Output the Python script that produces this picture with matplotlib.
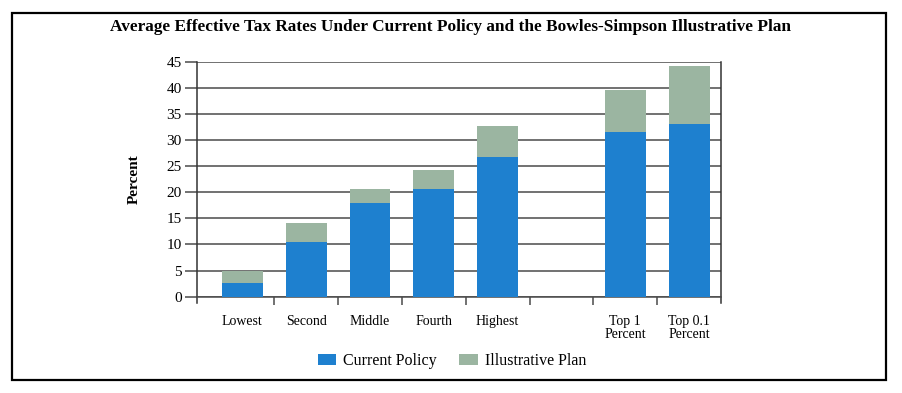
import matplotlib
matplotlib.use("Agg")
import matplotlib.pyplot as plt
import numpy as np
from matplotlib.patches import Rectangle

categories = ["Lowest", "Second", "Middle", "Fourth", "Highest", "", "Top 1\nPercent", "Top 0.1\nPercent"]
current_policy = [2.6, 10.5, 18.0, 20.6, 26.7, np.nan, 31.5, 33.1]
illustrative_total = [5.0, 14.2, 20.6, 24.3, 32.7, np.nan, 39.5, 44.2]
yticks = [0, 5, 10, 15, 20, 25, 30, 35, 40, 45]

title = "Average Effective Tax Rates Under Current Policy and the Bowles-Simpson Illustrative Plan"

plt.rcParams['font.family'] = ['Liberation Serif', 'DejaVu Serif']

cur = np.array(current_policy)
extra = np.array(illustrative_total) - cur

fig = plt.figure(figsize=(9.02, 3.93), dpi=100)
W, H = 902, 393
# figure border
fig.patches.append(Rectangle((12 / W, 1 - 380 / H), (886 - 12) / W, (380 - 13) / H,
                             transform=fig.transFigure, fill=False, edgecolor='black',
                             linewidth=1.6))

ax = fig.add_axes([197 / W, 1 - 296.7 / H, (721 - 197) / W, (296.7 - 61.7) / H])
x = np.arange(len(categories))
blue = '#1e80cf'
green = '#9bb5a1'
ax.bar(x, cur, width=0.64, color=blue, zorder=3, label='Current Policy')
ax.bar(x, extra, bottom=cur, width=0.64, color=green, zorder=3, label='Illustrative Plan')

ax.set_xlim(-0.71, 7.5)
ax.set_ylim(0, 45)
ax.set_yticks(yticks)
ax.yaxis.grid(True, color='#4a4a4a', linewidth=1.1, zorder=1)
ax.set_axisbelow(True)
ax.tick_params(axis='y', length=9, width=1.1, color='#4a4a4a', labelsize=11, pad=2)

ax.set_xticks(x)
ax.set_xticklabels(categories, fontsize=10, linespacing=1.05)
ax.set_xticks(np.arange(0.5, 7, 1), minor=True)
ax.tick_params(axis='x', which='major', length=0, pad=13)
ax.tick_params(axis='x', which='minor', length=6, width=1.1, color='#4a4a4a')

ax.spines['top'].set_visible(False)
ax.spines['left'].set_color('#333333')
ax.spines['left'].set_linewidth(1.1)
ax.spines['left'].set_bounds(-1.3, 45)
ax.spines['right'].set_color('#333333')
ax.spines['right'].set_linewidth(1.1)
ax.spines['right'].set_bounds(-1.3, 45)
ax.spines['bottom'].set_color('#4a4a4a')
ax.spines['bottom'].set_linewidth(1.1)

ax.set_ylabel("Percent", fontsize=11, fontweight='bold')
ax.yaxis.set_label_coords(-0.107, 0.5)

fig.text(451 / W, 1 - 27 / H, title, ha='center', va='center', fontsize=12.4, fontweight='bold')

leg = fig.legend(loc='center', bbox_to_anchor=(452 / W, 1 - 361 / H), ncol=2, frameon=False,
                 fontsize=11.5, handlelength=1.15, handleheight=0.65, columnspacing=1.4,
                 handletextpad=0.45)

fig.savefig("out.png", dpi=100)
